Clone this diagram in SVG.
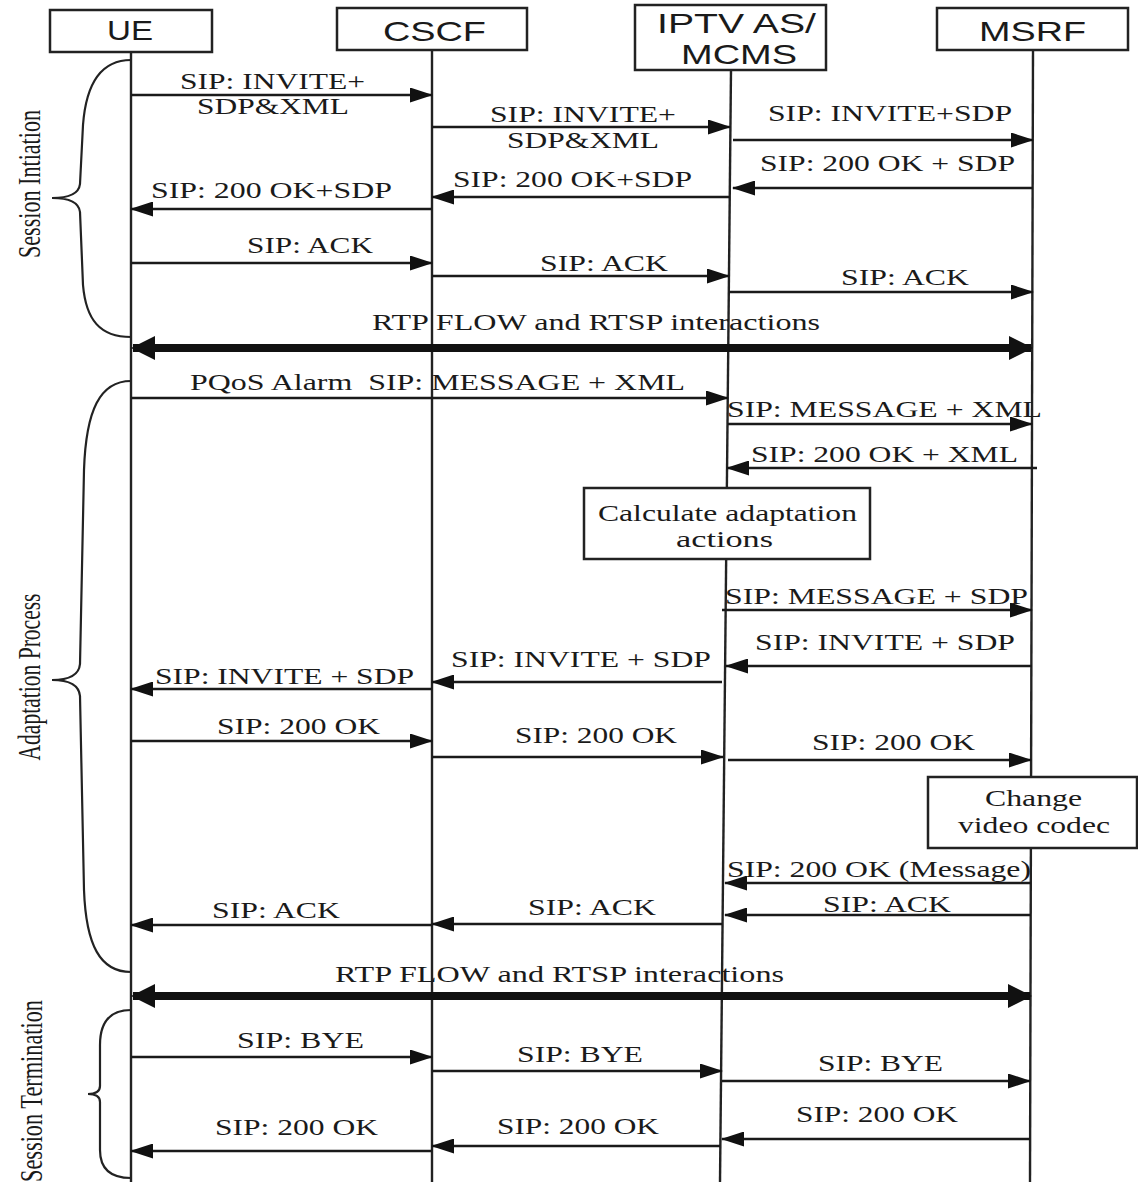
<svg xmlns="http://www.w3.org/2000/svg" width="1138" height="1182" viewBox="0 0 1138 1182">
<style>
.box{fill:#fff;stroke:#222;stroke-width:2.5}
.life{stroke:#222;stroke-width:2.4;fill:none}
.hd{font-family:"Liberation Sans",Arial,sans-serif;font-size:28px;fill:#1a1a1a}
.lb{font-family:"Liberation Serif","Times New Roman",serif;font-size:23px;fill:#1a1a1a}
.side{font-family:"Liberation Serif","Times New Roman",serif;font-size:32px;fill:#1a1a1a}
.msg{stroke:#1a1a1a;stroke-width:2.6;fill:none;marker-end:url(#ah)}
.thick{stroke:#111;stroke-width:8;fill:none;marker-end:url(#ahb);marker-start:url(#ahb)}
.brace{stroke:#222;stroke-width:2.2;fill:none}
</style>
<defs>
<marker id="ah" markerUnits="userSpaceOnUse" markerWidth="23" markerHeight="15" viewBox="0 0 23 15" refX="22" refY="7.5" orient="auto">
<path d="M0,0 L23,7.5 L0,15 z" fill="#111"/>
</marker>
<marker id="ahb" markerUnits="userSpaceOnUse" markerWidth="24" markerHeight="24" viewBox="0 0 24 24" refX="22" refY="12" orient="auto-start-reverse">
<path d="M0,0 L24,12 L0,24 z" fill="#111"/>
</marker>
</defs>
<rect width="1138" height="1182" fill="#fff"/>

<g id="UE">
<line class="life" x1="131" y1="52" x2="131" y2="1182"/>
<rect class="box" x="50" y="10" width="162" height="42"/>
<text class="hd" x="107" y="40" textLength="46" lengthAdjust="spacingAndGlyphs">UE</text>
</g>
<g id="CSCF">
<line class="life" x1="432" y1="50" x2="432" y2="1182"/>
<rect class="box" x="337" y="8" width="190" height="42"/>
<text class="hd" x="383" y="41" textLength="103" lengthAdjust="spacingAndGlyphs">CSCF</text>
</g>
<g id="IPTV">
<line class="life" x1="731" y1="70" x2="720" y2="1182"/>
<rect class="box" x="635" y="5" width="191" height="65"/>
<text class="hd" x="657" y="33" textLength="159" lengthAdjust="spacingAndGlyphs">IPTV AS/</text>
<text class="hd" x="681" y="64" textLength="116" lengthAdjust="spacingAndGlyphs">MCMS</text>
</g>
<g id="MSRF">
<line class="life" x1="1033" y1="50" x2="1030" y2="1182"/>
<rect class="box" x="937" y="8" width="191" height="42"/>
<text class="hd" x="979" y="41" textLength="107" lengthAdjust="spacingAndGlyphs">MSRF</text>
</g>

<g id="calc">
<rect class="box" x="584" y="488" width="286" height="71"/>
<text class="lb" x="598" y="521" textLength="259" lengthAdjust="spacingAndGlyphs">Calculate adaptation</text>
<text class="lb" x="676" y="547" textLength="97" lengthAdjust="spacingAndGlyphs">actions</text>
</g>
<g id="codec">
<rect class="box" x="928" y="777" width="209" height="71"/>
<text class="lb" x="985" y="806" textLength="97" lengthAdjust="spacingAndGlyphs">Change</text>
<text class="lb" x="958" y="833" textLength="152" lengthAdjust="spacingAndGlyphs">video codec</text>
</g>

<g id="phases">
<path class="brace" d="M131,60 C100,60 86,85 83,125 L80,184 C79,193 70,198 52,198 C70,198 79,203 80,212 L83,285 C86,320 100,337 131,337"/>
<text class="side" transform="translate(40,184) rotate(-90)" text-anchor="middle" textLength="148" lengthAdjust="spacingAndGlyphs">Session Intiation</text>
<path class="brace" d="M131,381 C100,381 86,410 84,470 L80,664 C79,675 70,680 52,680 C70,680 79,685 80,696 L84,890 C86,945 100,972 131,972"/>
<text class="side" transform="translate(40,677) rotate(-90)" text-anchor="middle" textLength="167" lengthAdjust="spacingAndGlyphs">Adaptation Process</text>
<path class="brace" d="M131,1010 C110,1010 100,1022 100,1045 L100,1086 C100,1091 96,1094 88,1094 C96,1094 100,1097 100,1102 L100,1150 C100,1168 110,1178 131,1178"/>
<text class="side" transform="translate(42,1091) rotate(-90)" text-anchor="middle" textLength="182" lengthAdjust="spacingAndGlyphs">Session Termination</text>
</g>

<g id="connectors">
<line class="msg" x1="131" y1="95" x2="432" y2="95"/>
<line class="msg" x1="432" y1="127" x2="730" y2="127"/>
<line class="msg" x1="733" y1="140" x2="1033" y2="140"/>
<line class="msg" x1="1033" y1="188" x2="733" y2="188"/>
<line class="msg" x1="730" y1="197" x2="432" y2="197"/>
<line class="msg" x1="432" y1="209" x2="131" y2="209"/>
<line class="msg" x1="131" y1="263" x2="432" y2="263"/>
<line class="msg" x1="432" y1="276" x2="729" y2="276"/>
<line class="msg" x1="729" y1="292" x2="1033" y2="292"/>
<line class="thick" x1="133" y1="348" x2="1031" y2="348"/>
<line class="msg" x1="131" y1="398" x2="728" y2="398"/>
<line class="msg" x1="728" y1="424" x2="1032" y2="424"/>
<line class="msg" x1="1037" y1="468" x2="727" y2="468"/>
<line class="msg" x1="722" y1="610" x2="1032" y2="610"/>
<line class="msg" x1="1032" y1="666" x2="726" y2="666"/>
<line class="msg" x1="722" y1="682" x2="432" y2="682"/>
<line class="msg" x1="432" y1="689" x2="131" y2="689"/>
<line class="msg" x1="131" y1="741" x2="432" y2="741"/>
<line class="msg" x1="432" y1="757" x2="723" y2="757"/>
<line class="msg" x1="728" y1="760" x2="1031" y2="760"/>
<line class="msg" x1="1031" y1="883" x2="725" y2="883"/>
<line class="msg" x1="1031" y1="915" x2="725" y2="915"/>
<line class="msg" x1="722" y1="924" x2="432" y2="924"/>
<line class="msg" x1="432" y1="925" x2="131" y2="925"/>
<line class="thick" x1="133" y1="996" x2="1030" y2="996"/>
<line class="msg" x1="131" y1="1057" x2="432" y2="1057"/>
<line class="msg" x1="432" y1="1071" x2="722" y2="1071"/>
<line class="msg" x1="722" y1="1081" x2="1030" y2="1081"/>
<line class="msg" x1="1030" y1="1139" x2="722" y2="1139"/>
<line class="msg" x1="720" y1="1146" x2="432" y2="1146"/>
<line class="msg" x1="432" y1="1151" x2="131" y2="1151"/>
</g>

<g id="labels">
<text class="lb" x="180" y="89" textLength="185" lengthAdjust="spacingAndGlyphs">SIP: INVITE+</text>
<text class="lb" x="197" y="114" textLength="152" lengthAdjust="spacingAndGlyphs">SDP&amp;XML</text>
<text class="lb" x="490" y="122" textLength="186" lengthAdjust="spacingAndGlyphs">SIP: INVITE+</text>
<text class="lb" x="507" y="148" textLength="152" lengthAdjust="spacingAndGlyphs">SDP&amp;XML</text>
<text class="lb" x="768" y="121" textLength="244" lengthAdjust="spacingAndGlyphs">SIP: INVITE+SDP</text>
<text class="lb" x="760" y="171" textLength="255" lengthAdjust="spacingAndGlyphs">SIP: 200 OK + SDP</text>
<text class="lb" x="453" y="187" textLength="239" lengthAdjust="spacingAndGlyphs">SIP: 200 OK+SDP</text>
<text class="lb" x="151" y="198" textLength="241" lengthAdjust="spacingAndGlyphs">SIP: 200 OK+SDP</text>
<text class="lb" x="247" y="253" textLength="126" lengthAdjust="spacingAndGlyphs">SIP: ACK</text>
<text class="lb" x="540" y="271" textLength="128" lengthAdjust="spacingAndGlyphs">SIP: ACK</text>
<text class="lb" x="841" y="285" textLength="128" lengthAdjust="spacingAndGlyphs">SIP: ACK</text>
<text class="lb" x="372" y="330" textLength="448" lengthAdjust="spacingAndGlyphs">RTP FLOW and RTSP interactions</text>
<text class="lb" x="190" y="390" textLength="495" lengthAdjust="spacingAndGlyphs" xml:space="preserve">PQoS Alarm  SIP: MESSAGE + XML</text>
<text class="lb" x="727" y="417" textLength="315" lengthAdjust="spacingAndGlyphs">SIP: MESSAGE + XML</text>
<text class="lb" x="751" y="462" textLength="267" lengthAdjust="spacingAndGlyphs">SIP: 200 OK + XML</text>
<text class="lb" x="725" y="604" textLength="303" lengthAdjust="spacingAndGlyphs">SIP: MESSAGE + SDP</text>
<text class="lb" x="755" y="650" textLength="260" lengthAdjust="spacingAndGlyphs">SIP: INVITE + SDP</text>
<text class="lb" x="451" y="667" textLength="260" lengthAdjust="spacingAndGlyphs">SIP: INVITE + SDP</text>
<text class="lb" x="155" y="684" textLength="259" lengthAdjust="spacingAndGlyphs">SIP: INVITE + SDP</text>
<text class="lb" x="217" y="734" textLength="163" lengthAdjust="spacingAndGlyphs">SIP: 200 OK</text>
<text class="lb" x="515" y="743" textLength="162" lengthAdjust="spacingAndGlyphs">SIP: 200 OK</text>
<text class="lb" x="812" y="750" textLength="163" lengthAdjust="spacingAndGlyphs">SIP: 200 OK</text>
<text class="lb" x="727" y="877" textLength="304" lengthAdjust="spacingAndGlyphs">SIP: 200 OK (Message)</text>
<text class="lb" x="823" y="912" textLength="128" lengthAdjust="spacingAndGlyphs">SIP: ACK</text>
<text class="lb" x="528" y="915" textLength="128" lengthAdjust="spacingAndGlyphs">SIP: ACK</text>
<text class="lb" x="212" y="918" textLength="128" lengthAdjust="spacingAndGlyphs">SIP: ACK</text>
<text class="lb" x="335" y="982" textLength="449" lengthAdjust="spacingAndGlyphs">RTP FLOW and RTSP interactions</text>
<text class="lb" x="237" y="1048" textLength="127" lengthAdjust="spacingAndGlyphs">SIP: BYE</text>
<text class="lb" x="517" y="1062" textLength="126" lengthAdjust="spacingAndGlyphs">SIP: BYE</text>
<text class="lb" x="818" y="1071" textLength="125" lengthAdjust="spacingAndGlyphs">SIP: BYE</text>
<text class="lb" x="796" y="1122" textLength="162" lengthAdjust="spacingAndGlyphs">SIP: 200 OK</text>
<text class="lb" x="497" y="1134" textLength="162" lengthAdjust="spacingAndGlyphs">SIP: 200 OK</text>
<text class="lb" x="215" y="1135" textLength="163" lengthAdjust="spacingAndGlyphs">SIP: 200 OK</text>
</g>
</svg>
